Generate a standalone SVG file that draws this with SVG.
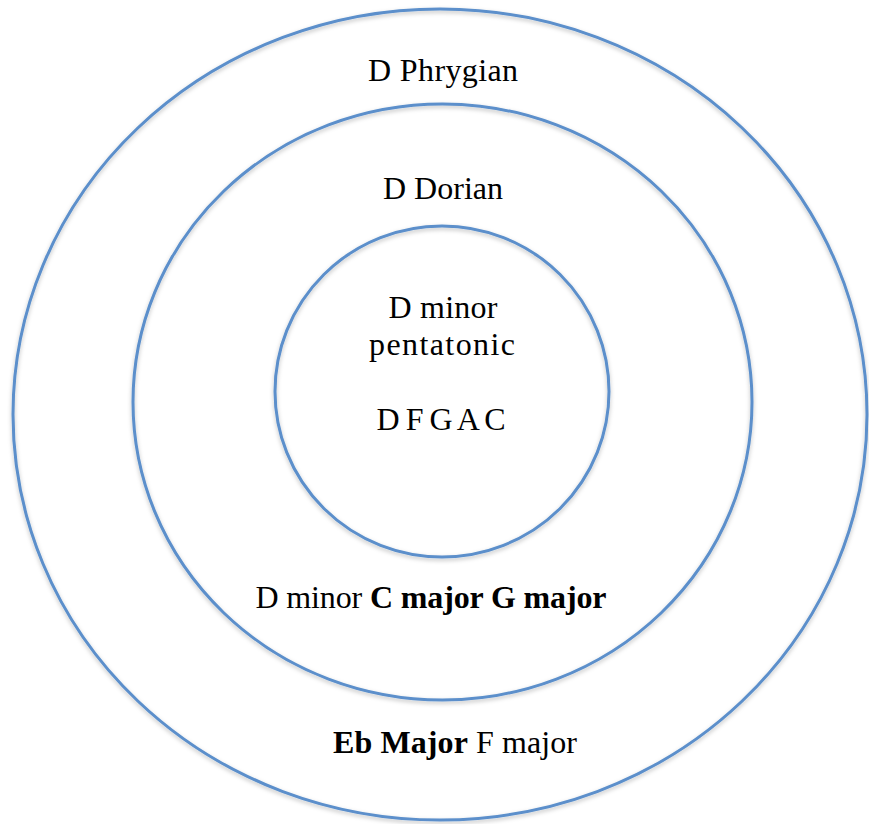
<svg xmlns="http://www.w3.org/2000/svg" width="869" height="824" viewBox="0 0 869 824">
<style>
.ring{fill:none;stroke:#5b8fcb;stroke-width:3;filter:url(#sh)}
.t{font-family:"Liberation Serif","Times New Roman",serif;font-size:32px;fill:#000;text-anchor:middle}
.b{font-weight:bold}
</style>
<defs>
<filter id="sh" x="-5%" y="-5%" width="110%" height="110%">
<feDropShadow dx="0" dy="2" stdDeviation="2" flood-color="#000" flood-opacity="0.25"/>
</filter>
</defs>
<rect width="869" height="824" fill="#fff"/>
<g id="outer">
<ellipse class="ring" cx="440" cy="414.5" rx="427" ry="405.5"/>
<text class="t" x="443" y="81" textLength="150">D Phrygian</text>
<text class="t" x="455" y="753" textLength="244"><tspan class="b">Eb Major</tspan> F major</text>
</g>
<g id="middle">
<ellipse class="ring" cx="442.5" cy="402" rx="309.5" ry="298"/>
<text class="t" x="443" y="199" textLength="120">D Dorian</text>
<text class="t" x="431" y="608" textLength="351">D minor <tspan class="b">C major G major</tspan></text>
</g>
<g id="inner">
<ellipse class="ring" cx="442" cy="391.5" rx="167" ry="165.5"/>
<text class="t" x="443" y="318" textLength="109">D minor</text>
<text class="t" x="442" y="355" textLength="146">pentatonic</text>
<text class="t" x="441" y="430" word-spacing="-2">D F G A C</text>
</g>
<g id="connectors"/>
</svg>
